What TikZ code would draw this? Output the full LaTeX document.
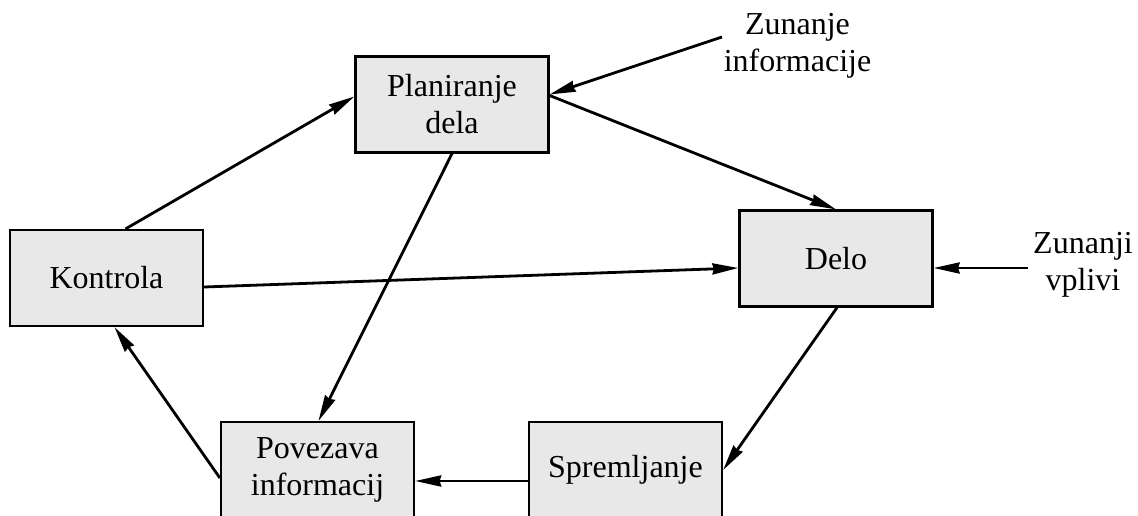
\documentclass[tikz,border=0pt]{standalone}
\usepackage{fontspec}
\setmainfont{LiberationSerif}[Extension=.ttf,UprightFont=*-Regular,BoldFont=*-Bold]
\usetikzlibrary{arrows.meta}
\definecolor{boxfill}{HTML}{E8E8E8}
\begin{document}
\begin{tikzpicture}[x=1pt,y=-1pt,
  blok/.style={draw=black,line width=2.2pt,fill=boxfill,minimum width=193pt,minimum height=96pt,
    inner sep=0pt,align=center,font=\rmfamily\fontsize{32}{37}\selectfont},
  lbl/.style={align=center,inner sep=0pt,font=\rmfamily\fontsize{32}{37}\selectfont},
  arr/.style={line width=2.8pt,-{Stealth[length=26pt,width=11pt,inset=1.5pt]}}]
\clip (0,0) rectangle (1138,516);
\node[blok] (plan) at (452,104.5) {Planiranje\\dela};
\node[blok] (kon) at (106.5,278) {Kontrola};
\node[blok] (delo) at (836,258.5) {Delo};
\node[blok] (pov) at (317.5,470) {Povezava\\informacij};
\node[blok] (spr) at (625.5,470) {Spremljanje};
\node[lbl] (zi) at (797.5,46) {Zunanje\\informacije};
\node[lbl] (zv) at (1083,265) {Zunanji\\vplivi};
\coordinate (zis) at (722,37);
\coordinate (zvs) at (1028,268);
\draw[arr] ([xshift=19pt]kon.north) -- ([yshift=8pt]plan.west);
\draw[arr] ([yshift=9pt]plan.east) -- (delo.north);
\draw[arr] (zis) -- ([yshift=10pt]plan.east);
\draw[arr] (plan.south) -- ([xshift=1pt]pov.north);
\draw[arr] ([yshift=-9pt]kon.east) -- ([yshift=-9.5pt]delo.west);
\draw[arr] (zvs) -- ([yshift=-9.5pt]delo.east);
\draw[arr] ([xshift=1pt]delo.south) -- (spr.east);
\draw[arr] ([yshift=-11pt]spr.west) -- ([yshift=-11pt]pov.east);
\draw[arr] ([yshift=-8pt]pov.west) -- ([xshift=8pt]kon.south);
\end{tikzpicture}
\end{document}
